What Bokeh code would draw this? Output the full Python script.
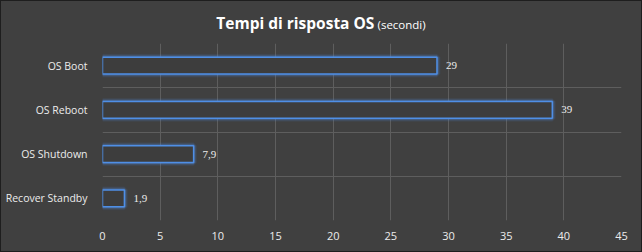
from bokeh.plotting import figure
from bokeh.layouts import column
from bokeh.models import FactorRange, Range1d, FixedTicker, Div, ColumnDataSource
from bokeh.embed import file_html
from bokeh.resources import INLINE

categories = ["OS Boot", "OS Reboot", "OS Shutdown", "Recover Standby"]
values = [29, 39, 7.9, 1.9]
value_labels = ["29", "39", "7,9", "1,9"]
x_ticks = [0, 5, 10, 15, 20, 25, 30, 35, 40, 45]
title_main = "Tempi di risposta OS"
title_unit = "(secondi)"

BG = "#404040"
GRID = "#5e5e5e"
BAR = "#4f8fe6"
TXT = "#ececec"

src = ColumnDataSource(dict(cat=categories, val=values, lab=value_labels))

p = figure(width=640, height=208, output_backend="svg", toolbar_location=None,
           y_range=FactorRange(factors=list(reversed(categories))),
           x_range=Range1d(0, 45),
           min_border_left=101, min_border_right=20, min_border_top=0, min_border_bottom=31)
p.background_fill_color = BG
p.border_fill_color = BG
p.outline_line_alpha = 0.0

# glow + outline bars
for w, a in [(7, 0.08), (5, 0.15), (3, 0.3)]:
    p.hbar(y="cat", right="val", left=0, height=0.38, source=src,
           fill_alpha=0, line_color=BAR, line_alpha=a, line_width=w)
p.hbar(y="cat", right="val", left=0, height=0.38, source=src,
       fill_color="#3d3d3d", line_color=BAR, line_width=1.5)

p.text(x="val", y="cat", text="lab", source=src, x_offset=9,
       text_baseline="middle", text_align="left", text_color=TXT,
       text_font_size="11px", text_font="Open Sans")

# axes
p.xaxis.ticker = FixedTicker(ticks=x_ticks)
p.xaxis.axis_line_color = None
p.xaxis.major_tick_line_color = None
p.xaxis.minor_tick_line_color = None
p.xaxis.major_label_text_color = TXT
p.xaxis.major_label_text_font = "Open Sans"
p.xaxis.major_label_text_font_size = "11px"
p.xaxis.major_label_standoff = 5

p.yaxis.axis_line_color = None
p.yaxis.major_tick_line_color = None
p.yaxis.major_label_text_color = TXT
p.yaxis.major_label_text_font = "Open Sans"
p.yaxis.major_label_text_font_size = "10.5px"
p.yaxis.major_label_standoff = 9

p.xgrid.ticker = FixedTicker(ticks=x_ticks[1:])
p.xgrid.grid_line_color = GRID
p.xgrid.grid_line_width = 1
p.ygrid.ticker = FixedTicker(ticks=[0, 1, 2, 3, 4])
p.ygrid.grid_line_color = GRID
p.ygrid.grid_line_width = 1

title = Div(
    text=('<div style="width:640px;text-align:center;padding-top:12px;line-height:20px;'
          'color:#ffffff;font-family:\'Open Sans\';white-space:nowrap">'
          f'<span style="font-weight:bold;font-size:15.5px">{title_main}</span> '
          f'<span style="font-size:11.5px">{title_unit}</span></div>'),
    width=640, height=42,
    styles={"background-color": BG, "margin": "0", "padding": "0"})

layout = column(title, p, spacing=0,
                styles={"border": "1px solid #1e1e1e", "background-color": BG})

open("out.html", "w").write(file_html(layout, INLINE))
